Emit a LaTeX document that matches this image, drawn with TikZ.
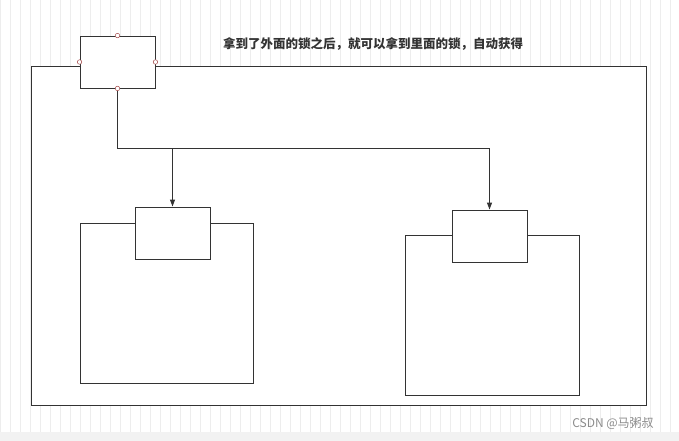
\documentclass[tikz,border=0pt]{standalone}
\usepackage{fontspec}
\newfontfamily\cjk{Noto Sans CJK SC}
\usetikzlibrary{arrows.meta}
\begin{document}
\begin{tikzpicture}[x=1pt,y=-1pt,
  box/.style={draw=black!80,line width=0.9pt,fill=white},
  port/.style={circle,draw=red!50!black!70,fill=white,inner sep=0pt,minimum size=4.5pt,line width=0.5pt},
  conn/.style={draw=black!80,line width=1pt,-{Triangle[length=7pt,width=5pt]}}]
\useasboundingbox (0,0) rectangle (679,441);
\fill[white] (0,0) rectangle (679,441);
\draw[black!7,line width=0.5pt] (0,0) grid[step=10] (679,432);
\fill[black!5] (0,432) rectangle (679,441);
\draw[box] (31,66) rectangle (646,405);
\node[box,minimum width=75pt,minimum height=52pt,inner sep=0pt] (lock) at (117.5,62) {};
\node[port] (pt) at (lock.north) {};
\node[port] (pl) at (lock.west) {};
\node[port] (pr) at (lock.east) {};
\node[port] (pb) at (lock.south) {};
\draw[box] (80,223) rectangle (253,383);
\draw[box] (405,235) rectangle (579,395);
\node[box,minimum width=75pt,minimum height=52pt,inner sep=0pt] (la) at (172.5,233) {};
\node[box,minimum width=75pt,minimum height=52pt,inner sep=0pt] (lb) at (489.5,236) {};
\coordinate (j) at (117.5,148);
\draw[conn] (pb) -- (j) -| (la.north);
\draw[conn] (j) -| (lb.north);
\node[font=\cjk\bfseries,text=black!80,scale=1.0] (t) at (373,44) {\fontsize{12.5}{14}\selectfont 拿到了外面的锁之后，就可以拿到里面的锁，自动获得};
\node[font=\cjk,text=black!45] (w) at (613,424) {\fontsize{12}{14}\selectfont CSDN @马粥叔};
\end{tikzpicture}
\end{document}
